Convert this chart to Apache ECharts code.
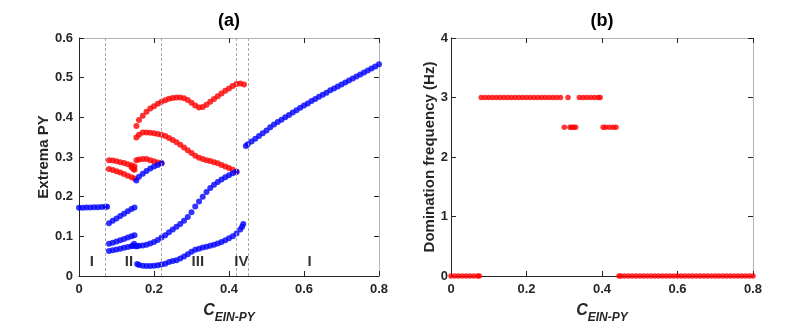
<!DOCTYPE html>
<html>
<head>
<meta charset="utf-8">
<script src="https://cdn.jsdelivr.net/npm/echarts@6/dist/echarts.min.js"></script>
<style>
  html, body { margin: 0; padding: 0; background: #fff; }
  #main { width: 786px; height: 333px; }
</style>
</head>
<body>
<div id="main"></div>
<script>
// ---- panel (a): extrema of PY, [C, value] ----
// minima (blue)
var fixedLow = [[0, 0.172], [0.01, 0.1723], [0.02, 0.1726], [0.03, 0.1729], [0.04, 0.1732], [0.05, 0.1736], [0.06, 0.174], [0.07, 0.1745], [0.075, 0.1748]];
var minIIa = [[0.08, 0.133], [0.09, 0.139], [0.10, 0.145], [0.11, 0.151], [0.12, 0.157], [0.13, 0.163], [0.14, 0.169], [0.148, 0.173]];
var minIIb = [[0.08, 0.081], [0.09, 0.084], [0.10, 0.087], [0.11, 0.090], [0.12, 0.093], [0.13, 0.097], [0.14, 0.100], [0.148, 0.1025]];
var minIIc = [[0.08, 0.063], [0.09, 0.065], [0.10, 0.067], [0.11, 0.069], [0.12, 0.071], [0.13, 0.073], [0.14, 0.075], [0.143, 0.076], [0.147, 0.081], [0.151, 0.075]];
var minIIIa = [[0.153, 0.241], [0.16, 0.250], [0.17, 0.258], [0.18, 0.265], [0.19, 0.271], [0.20, 0.276], [0.21, 0.280], [0.22, 0.284]];
var minIIIb = [[0.155, 0.075], [0.16, 0.076], [0.17, 0.077], [0.18, 0.079], [0.19, 0.082], [0.20, 0.086], [0.21, 0.091], [0.22, 0.097], [0.23, 0.103], [0.24, 0.110], [0.25, 0.117], [0.26, 0.124], [0.27, 0.131], [0.28, 0.139], [0.29, 0.149], [0.30, 0.161], [0.31, 0.175], [0.32, 0.188], [0.33, 0.200], [0.34, 0.212], [0.35, 0.222], [0.36, 0.230], [0.37, 0.237], [0.38, 0.243], [0.39, 0.249], [0.40, 0.254], [0.41, 0.259], [0.42, 0.263]];
var minIIIc = [[0.155, 0.030], [0.16, 0.028], [0.17, 0.026], [0.18, 0.025], [0.19, 0.025], [0.20, 0.026], [0.21, 0.027], [0.22, 0.029], [0.23, 0.031], [0.24, 0.035], [0.25, 0.038], [0.26, 0.040], [0.27, 0.044], [0.28, 0.049], [0.29, 0.055], [0.30, 0.061], [0.31, 0.066], [0.32, 0.069], [0.33, 0.072], [0.34, 0.074], [0.35, 0.076], [0.36, 0.079], [0.37, 0.082], [0.38, 0.086], [0.39, 0.090], [0.40, 0.095], [0.41, 0.100], [0.42, 0.107], [0.43, 0.117], [0.435, 0.124], [0.438, 0.131]];
var fixedHigh = [[0.445, 0.328], [0.45, 0.332], [0.46, 0.339], [0.47, 0.346], [0.48, 0.353], [0.49, 0.360], [0.50, 0.367], [0.51, 0.375], [0.52, 0.382], [0.53, 0.388], [0.54, 0.394], [0.55, 0.400], [0.56, 0.406], [0.57, 0.412], [0.58, 0.418], [0.59, 0.424], [0.60, 0.430], [0.61, 0.435], [0.62, 0.441], [0.63, 0.446], [0.64, 0.452], [0.65, 0.457], [0.66, 0.462], [0.67, 0.468], [0.68, 0.473], [0.69, 0.478], [0.70, 0.483], [0.71, 0.488], [0.72, 0.493], [0.73, 0.498], [0.74, 0.503], [0.75, 0.508], [0.76, 0.513], [0.77, 0.518], [0.78, 0.523], [0.79, 0.528], [0.80, 0.534]];
// maxima (red)
var maxIIa = [[0.08, 0.292], [0.09, 0.291], [0.10, 0.289], [0.11, 0.287], [0.12, 0.285], [0.13, 0.282], [0.14, 0.279], [0.148, 0.276]];
var maxIIb = [[0.14, 0.274], [0.145, 0.270], [0.148, 0.268]];
var maxIIc = [[0.08, 0.270], [0.09, 0.267], [0.10, 0.264], [0.11, 0.261], [0.12, 0.257], [0.13, 0.253], [0.14, 0.249], [0.148, 0.246]];
var maxIIIa = [[0.153, 0.292], [0.16, 0.294], [0.17, 0.295], [0.18, 0.295], [0.19, 0.292], [0.20, 0.289], [0.21, 0.286], [0.22, 0.284]];
var maxIIIb = [[0.153, 0.349], [0.16, 0.356], [0.17, 0.362], [0.18, 0.362], [0.19, 0.361], [0.20, 0.360], [0.21, 0.358], [0.22, 0.356], [0.23, 0.353], [0.24, 0.348], [0.25, 0.343], [0.26, 0.337], [0.27, 0.331], [0.28, 0.324], [0.29, 0.317], [0.30, 0.310], [0.31, 0.303], [0.32, 0.298], [0.33, 0.295], [0.34, 0.292], [0.35, 0.290], [0.36, 0.287], [0.37, 0.284], [0.38, 0.280], [0.39, 0.276], [0.40, 0.272], [0.41, 0.268], [0.42, 0.263]];
var maxIIIc = [[0.153, 0.378], [0.16, 0.393], [0.17, 0.404], [0.18, 0.414], [0.19, 0.422], [0.20, 0.428], [0.21, 0.434], [0.22, 0.439], [0.23, 0.443], [0.24, 0.447], [0.25, 0.449], [0.26, 0.450], [0.27, 0.450], [0.28, 0.448], [0.29, 0.444], [0.30, 0.437], [0.31, 0.430], [0.32, 0.425], [0.33, 0.426], [0.34, 0.432], [0.35, 0.439], [0.36, 0.446], [0.37, 0.453], [0.38, 0.460], [0.39, 0.467], [0.40, 0.473], [0.41, 0.479], [0.42, 0.484], [0.43, 0.485], [0.44, 0.483]];

var borderLines = [0.073, 0.219, 0.421, 0.445];
var regionNames = ['I', 'II', 'III', 'IV', 'I'];
var regionX = [0.034, 0.133, 0.317, 0.433, 0.615];
var regionY = 0.035;

// ---- panel (b): domination frequency (Hz) ----
var domFreq = [
  [0, 0], [0.01, 0], [0.02, 0], [0.03, 0], [0.04, 0], [0.05, 0], [0.06, 0], [0.07, 0], [0.075, 0],
  [0.08, 3], [0.09, 3], [0.10, 3], [0.11, 3], [0.12, 3], [0.13, 3], [0.14, 3], [0.15, 3], [0.16, 3], [0.17, 3], [0.18, 3],
  [0.19, 3], [0.20, 3], [0.21, 3], [0.22, 3], [0.23, 3], [0.24, 3], [0.25, 3], [0.26, 3], [0.27, 3], [0.28, 3], [0.29, 3],
  [0.30, 2.5], [0.31, 3], [0.315, 2.5], [0.32, 2.5], [0.325, 2.5], [0.33, 2.5],
  [0.34, 3], [0.35, 3], [0.36, 3], [0.37, 3], [0.38, 3], [0.39, 3], [0.395, 3],
  [0.403, 2.5], [0.41, 2.5], [0.42, 2.5], [0.43, 2.5], [0.437, 2.5],
  [0.445, 0], [0.45, 0], [0.46, 0], [0.47, 0], [0.48, 0], [0.49, 0], [0.50, 0], [0.51, 0], [0.52, 0], [0.53, 0], [0.54, 0],
  [0.55, 0], [0.56, 0], [0.57, 0], [0.58, 0], [0.59, 0], [0.60, 0], [0.61, 0], [0.62, 0], [0.63, 0], [0.64, 0], [0.65, 0],
  [0.66, 0], [0.67, 0], [0.68, 0], [0.69, 0], [0.70, 0], [0.71, 0], [0.72, 0], [0.73, 0], [0.74, 0], [0.75, 0], [0.76, 0],
  [0.77, 0], [0.78, 0], [0.79, 0], [0.80, 0]
];

var FONT = 'Liberation Sans, Arial, sans-serif';
var DARK = '#262626';
var LIGHT = '#b4b4b4';
var RED = '#ff0000';
var BLUE = '#0000ff';

var chart = echarts.init(document.getElementById('main'));

function xName() {
  return {
    name: '{c|C}{s|EIN-PY}',
    nameLocation: 'middle',
    nameGap: 22,
    nameTextStyle: {
      rich: {
        c: { fontFamily: FONT, fontSize: 16, fontWeight: 'bold', fontStyle: 'italic', color: DARK },
        s: { fontFamily: FONT, fontSize: 12, fontWeight: 'bold', fontStyle: 'italic', color: DARK, padding: [14, 0, 0, 0] }
      }
    }
  };
}

function mainX(grid) {
  return Object.assign({
    type: 'value', gridIndex: grid, position: 'bottom', min: 0, max: 0.8, interval: 0.2,
    axisLine: { show: true, onZero: false, lineStyle: { color: DARK, width: 1 } },
    axisTick: { show: true, inside: true, length: 5, lineStyle: { color: DARK } },
    axisLabel: { color: DARK, fontFamily: FONT, fontSize: 13, fontWeight: 'bold', margin: 7, formatter: function (v) { return v === 0 ? '0' : String(+v.toFixed(1)); } },
    splitLine: { show: false }
  }, xName());
}

function boxX(grid) {
  return {
    type: 'value', gridIndex: grid, position: 'top', min: 0, max: 0.8, interval: 0.2,
    axisLine: { show: true, onZero: false, lineStyle: { color: LIGHT, width: 1 } },
    axisTick: { show: true, inside: true, length: 5, lineStyle: { color: DARK } },
    axisLabel: { show: false }, splitLine: { show: false }
  };
}

function mainY(grid, max, interval, name, gap, margin) {
  return {
    type: 'value', gridIndex: grid, position: 'left', min: 0, max: max, interval: interval,
    name: name, nameLocation: 'middle', nameGap: gap,
    nameTextStyle: { fontFamily: FONT, fontSize: 15, fontWeight: 'bold', color: DARK },
    axisLine: { show: true, onZero: false, lineStyle: { color: DARK, width: 1 } },
    axisTick: { show: true, inside: true, length: 5, lineStyle: { color: DARK } },
    axisLabel: { color: DARK, fontFamily: FONT, fontSize: 13, fontWeight: 'bold', margin: margin, formatter: function (v) { return v === 0 ? '0' : String(+v.toFixed(1)); } },
    splitLine: { show: false }
  };
}

function boxY(grid, max, interval) {
  return {
    type: 'value', gridIndex: grid, position: 'right', min: 0, max: max, interval: interval,
    axisLine: { show: true, onZero: false, lineStyle: { color: LIGHT, width: 1 } },
    axisTick: { show: true, inside: true, length: 5, lineStyle: { color: DARK } },
    axisLabel: { show: false }, splitLine: { show: false }
  };
}

function dots(data, color, size, z) {
  return {
    type: 'scatter', xAxisIndex: 0, yAxisIndex: 0, data: data,
    symbol: 'circle', symbolSize: size, itemStyle: { color: color }, z: z, silent: true
  };
}

var series = [
  {
    type: 'scatter', xAxisIndex: 0, yAxisIndex: 0, data: [], z: 1, silent: true,
    markLine: {
      silent: true, symbol: 'none', label: { show: false },
      lineStyle: { type: [3, 2], color: '#a8a8a8', width: 1 },
      data: borderLines.map(function (x) { return { xAxis: x }; })
    }
  }
];
[maxIIa, maxIIb, maxIIc, maxIIIa, maxIIIb, maxIIIc].forEach(function (d) { series.push(dots(d, RED, 6, 3)); });
[fixedLow, minIIa, minIIb, minIIc, minIIIa, minIIIb, minIIIc, fixedHigh].forEach(function (d) { series.push(dots(d, BLUE, 6, 4)); });

series.push({
  type: 'scatter', xAxisIndex: 0, yAxisIndex: 0, symbolSize: 0, z: 5, silent: true,
  data: regionX.map(function (x, i) { return [x, regionY, regionNames[i]]; }),
  label: {
    show: true, position: 'inside', formatter: function (p) { return p.value[2]; },
    fontFamily: FONT, fontSize: 15, fontWeight: 'bold', color: '#000'
  }
});

series.push({
  type: 'scatter', xAxisIndex: 2, yAxisIndex: 2, data: domFreq,
  symbol: 'circle', symbolSize: 5.5, itemStyle: { color: RED }, z: 3, silent: true
});

chart.setOption({
  animation: false,
  backgroundColor: '#fff',
  title: [
    { text: '(a)', left: 229, top: 12, textAlign: 'center', padding: 0, textStyle: { fontFamily: FONT, fontSize: 18, fontWeight: 'bold', color: '#000' } },
    { text: '(b)', left: 602, top: 12, textAlign: 'center', padding: 0, textStyle: { fontFamily: FONT, fontSize: 18, fontWeight: 'bold', color: '#000' } }
  ],
  grid: [
    { left: 79, right: 407, top: 38, bottom: 57 },
    { left: 451, right: 33, top: 38, bottom: 57 }
  ],
  xAxis: [mainX(0), boxX(0), mainX(1), boxX(1)],
  yAxis: [
    mainY(0, 0.6, 0.1, 'Extrema PY', 26, 6),
    boxY(0, 0.6, 0.1),
    mainY(1, 4, 1, 'Domination frequency (Hz)', 12, 3),
    boxY(1, 4, 1)
  ],
  series: series
});

window.addEventListener('resize', function () {
  chart.resize();
});
</script>
</body>
</html>
